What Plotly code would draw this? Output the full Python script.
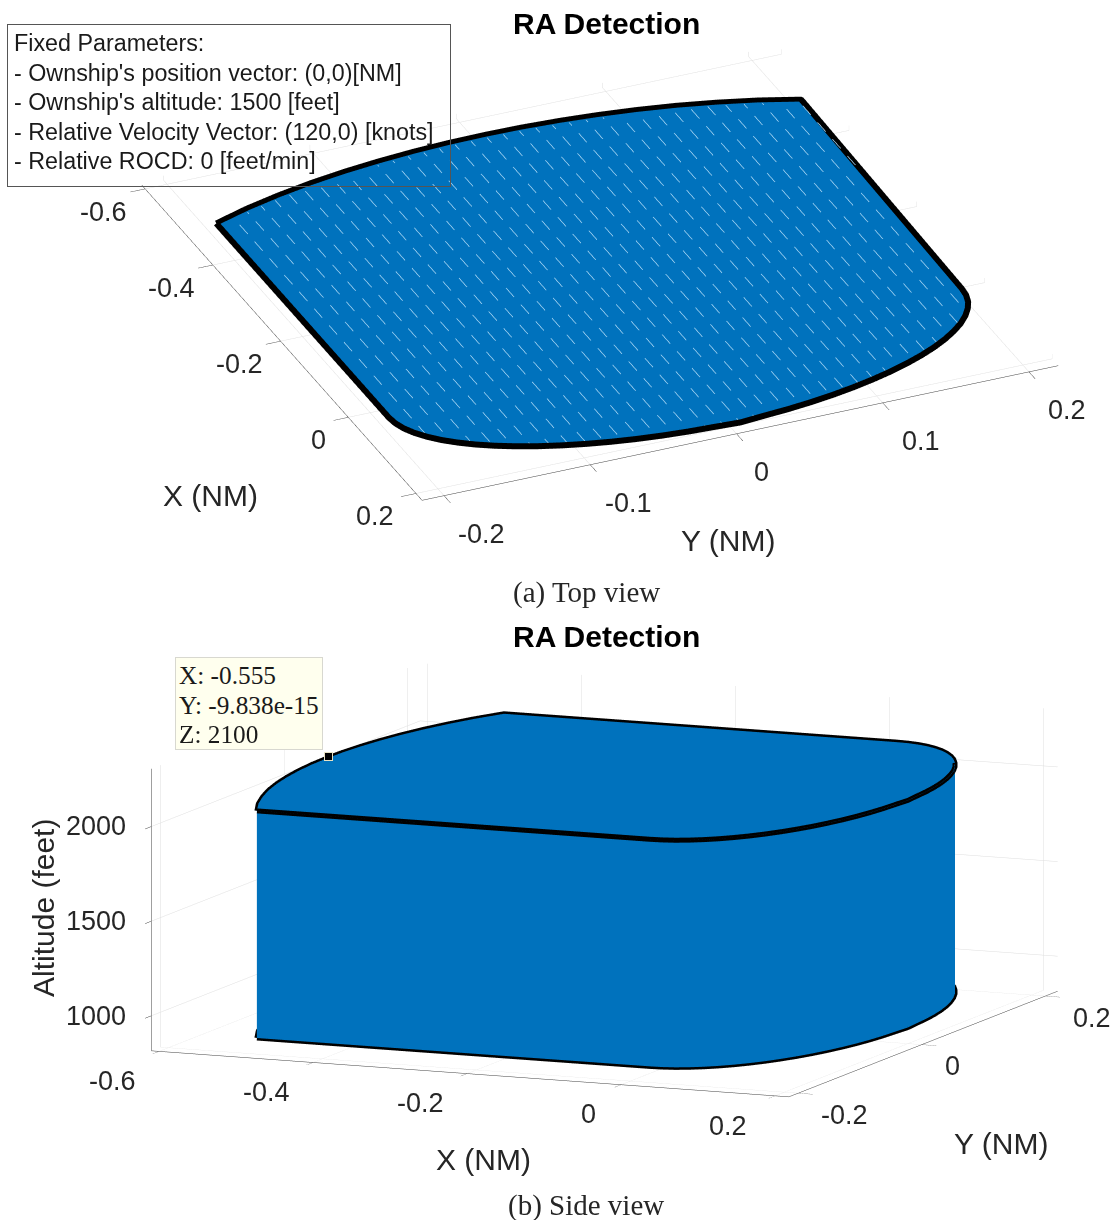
import numpy as np
import plotly.graph_objects as go
from math import cos, sin, radians

BLUE = "#0072BD"
# boundary of the RA region (NM)
boundary_x = [-0.485, 0.025, 0.0402, 0.0555, 0.0703, 0.0849, 0.0989, 0.1122, 0.125, 0.1369, 0.1479, 0.158, 0.1672,
              0.1752, 0.1822, 0.188, 0.1925, 0.1958, 0.1977, 0.2, 0.1977, 0.1958, 0.1925, 0.188, 0.1822, 0.1752,
              0.1672, 0.158, 0.1479, 0.1369, 0.125, 0.1122, 0.0989, 0.0849, 0.0703, 0.0555, 0.0402, 0.025,
              -0.485, -0.5032, -0.5178, -0.5298, -0.5391, -0.5461, -0.5511, -0.5541, -0.555,
              -0.5541, -0.5511, -0.5461, -0.5391, -0.5298, -0.5178, -0.5032, -0.485]
boundary_y = [-0.2, -0.2, -0.1992, -0.197, -0.1932, -0.1879, -0.1813, -0.1732, -0.1638, -0.1532, -0.1414, -0.1286,
              -0.1147, -0.1, -0.0845, -0.0684, -0.0518, -0.0347, -0.0174, 0.0, 0.0174, 0.0347, 0.0518, 0.0684,
              0.0845, 0.1, 0.1147, 0.1286, 0.1414, 0.1532, 0.1638, 0.1732, 0.1813, 0.1879, 0.1932, 0.197, 0.1992, 0.2,
              0.2, 0.175, 0.15, 0.125, 0.1, 0.075, 0.05, 0.025, 0.0,
              -0.025, -0.05, -0.075, -0.1, -0.125, -0.15, -0.175, -0.2]
# the top view's outline sits slightly apart from its axes in the picture
top_view_y_offset = 0.007
top_view_arc_dx = -0.0165
top_view_arc_dy = -0.0043
alt_low = 900
alt_high = 2100
tip_x, tip_y, tip_z = -0.555, 0.0, 2100
x_ticks = [-0.6, -0.4, -0.2, 0, 0.2]
y_ticks_top = [-0.2, -0.1, 0, 0.1, 0.2]
y_ticks_side = [-0.2, 0, 0.2]
z_ticks = [1000, 1500, 2000]
x_range = [-0.61, 0.218]
y_range = [-0.215, 0.22]
z_range = [815, 2305]
param_lines = ["Fixed Parameters:", "- Ownship's position vector: (0,0)[NM]", "- Ownship's altitude: 1500 [feet]",
               "- Relative Velocity Vector: (120,0) [knots]", "- Relative ROCD: 0 [feet/min]"]
tip_lines = ["X: -0.555", "Y: -9.838e-15", "Z: 2100"]
# sample lattice gaps visible on the top face
gap_y = [-0.198, -0.187, -0.176, -0.165, -0.154, -0.143, -0.132, -0.121, -0.11, -0.099, -0.088, -0.077, -0.066, -0.055,
         -0.044, -0.033, -0.022, -0.011, 0.0, 0.011, 0.022, 0.033, 0.044, 0.055, 0.066, 0.077, 0.088, 0.099, 0.11,
         0.121, 0.132, 0.143, 0.154, 0.165, 0.176, 0.187, 0.198]
gap_x = [-0.56, -0.516, -0.472, -0.428, -0.384, -0.34, -0.296, -0.252, -0.208, -0.164, -0.12, -0.076, -0.032, 0.012,
         0.056, 0.1, 0.144, 0.188]
gap_len = 0.024

n = len(boundary_x) - 1
cx, cy = -0.2, 0.0
FLAT = dict(ambient=1, diffuse=0, specular=0, fresnel=0, roughness=1)

top_x, top_y = [], []
for idx, (bx, by) in enumerate(zip(boundary_x, boundary_y)):
    w = max(by, 0.0) / 0.2 if 1 <= idx <= 37 else 0.0
    top_x.append(bx + w * top_view_arc_dx)
    top_y.append(by + top_view_y_offset + w * top_view_arc_dy)


def top_mesh(z, scene):
    xs = top_x[:-1] + [cx]
    ys = top_y[:-1] + [cy]
    zs = [z] * (n + 1)
    i = [n] * n
    j = list(range(n))
    k = [(a + 1) % n for a in range(n)]
    return go.Mesh3d(x=xs, y=ys, z=zs, i=i, j=j, k=k, color=BLUE, flatshading=True,
                     lighting=FLAT, hoverinfo="skip", scene=scene)


def solid_mesh(scene):
    xs = boundary_x[:-1] * 2 + [cx, cx]
    ys = boundary_y[:-1] * 2 + [cy, cy]
    zs = [alt_high] * n + [alt_low] * n + [alt_high, alt_low]
    i, j, k = [], [], []
    for a in range(n):
        b = (a + 1) % n
        i += [2 * n, a, b]
        j += [a, n + a, n + b]
        k += [b, n + b, a]
    return go.Mesh3d(x=xs, y=ys, z=zs, i=i, j=j, k=k, color=BLUE, flatshading=True,
                     lighting=FLAT, hoverinfo="skip", scene=scene)


def x_limits(y):
    near = list(zip(top_x[1:38], top_y[1:38]))
    far = list(zip(top_x[38:], top_y[38:]))[::-1]
    hi = np.interp(y, [p[1] for p in near], [p[0] for p in near])
    lo = np.interp(y, [p[1] for p in far], [p[0] for p in far])
    return lo, hi


hx, hy, hz = [], [], []
for gy in gap_y:
    yy = gy + top_view_y_offset
    lo, hi = x_limits(yy)
    for gx in gap_x:
        a, b = max(gx, lo + 0.006), min(gx + gap_len, hi - 0.006)
        if b > a:
            hx += [a, b, None]
            hy += [yy, yy, None]
            hz += [2099.8, 2099.8, None]


def axis(rng, ticks, **kw):
    return dict(range=rng, tickvals=ticks, showticklabels=False, title=dict(text=""),
                showgrid=True, gridcolor="#dedede", gridwidth=1, showline=True, linecolor="#404040", linewidth=1,
                ticks="outside", ticklen=16, tickcolor="#404040", tickwidth=1, showbackground=False,
                zeroline=False, showspikes=False, **kw)


fig = go.Figure()
fig.add_trace(top_mesh(2099.4, "scene"))
fig.add_trace(go.Scatter3d(x=hx, y=hy, z=hz, mode="lines", line=dict(color="#a8d6f4", width=1.5),
                           hoverinfo="skip", scene="scene"))
fig.add_trace(go.Scatter3d(x=top_x, y=top_y, z=[2100] * len(top_x), mode="lines",
                           line=dict(color="black", width=12), hoverinfo="skip", scene="scene"))
fig.add_trace(solid_mesh("scene2"))
fig.add_trace(go.Scatter3d(x=boundary_x, y=boundary_y, z=[alt_high] * len(boundary_x), mode="lines",
                           line=dict(color="black", width=10), hoverinfo="skip", scene="scene2"))
fig.add_trace(go.Scatter3d(x=boundary_x, y=boundary_y, z=[alt_low] * len(boundary_x), mode="lines",
                           line=dict(color="black", width=10), hoverinfo="skip", scene="scene2"))

W, H = 1115, 1220


def eye(theta, phi, d):
    t, p = radians(theta), radians(phi)
    return dict(x=d * cos(p) * cos(t), y=d * cos(p) * sin(t), z=d * sin(p))


TICK = dict(color="#262626", size=27, family="Liberation Sans")
EPS_X, EPS_Y, EPS_Z = 0.0005, 0.0005, 1.0


def tick_note(x, y, z, label, dx, dy):
    return dict(x=x, y=y, z=z, text=label, showarrow=False, xanchor="center", yanchor="middle",
                xshift=dx, yshift=-dy, font=TICK)


top_ann = [tick_note(v, y_range[0] + EPS_Y, 2099.5, str(v), -31 if v == 0 else -42, 24) for v in x_ticks]
top_ann += [tick_note(x_range[1] - EPS_X, v, 2099.5, str(v), 25 if v == 0 else 38, 40) for v in y_ticks_top]
side_ann = [tick_note(v, y_range[0] + EPS_Y, z_range[0] + EPS_Z, str(v), -33 if v == 0 else -47, 30) for v in x_ticks]
side_ann += [tick_note(x_range[1] - EPS_X, v, z_range[0] + EPS_Z, str(v), 31 if v == 0 else 47, 22) for v in y_ticks_side]
side_ann += [tick_note(x_range[0] + EPS_X, y_range[0] + EPS_Y, v, str(v), -56, 0) for v in z_ticks]
side_ann.append(dict(x=tip_x, y=tip_y, z=tip_z, text=" ", showarrow=False, xanchor="center", yanchor="middle",
                     xshift=2, yshift=2, width=7, height=7, borderpad=0, bgcolor="black", bordercolor="#e8e2c4",
                     borderwidth=1, font=dict(size=4)))

fig.update_layout(
    width=W, height=H, margin=dict(l=0, r=0, t=0, b=0), paper_bgcolor="white", showlegend=False,
    scene=dict(domain=dict(x=[85 / W, 1], y=[1 - 546 / H, 1]),
               xaxis=axis(x_range, x_ticks), yaxis=axis(y_range, y_ticks_top),
               zaxis=dict(range=[2099, 2101], visible=False),
               aspectmode="manual", aspectratio=dict(x=2.58, y=2.54, z=0.02),
               annotations=top_ann,
               camera=dict(projection=dict(type="orthographic"), eye=eye(-23.45, 29.2, 2),
                           up=dict(x=0, y=0, z=1))),
    scene2=dict(domain=dict(x=[94 / W, 1], y=[1 - 1169 / H, 1 - 591 / H]),
                xaxis=axis(x_range, x_ticks), yaxis=axis(y_range, y_ticks_side), zaxis=axis(z_range, z_ticks),
                aspectmode="manual", aspectratio=dict(x=2.4, y=2.36, z=0.99),
                annotations=side_ann,
                camera=dict(projection=dict(type="orthographic"), eye=eye(-66.8, 9.7, 2),
                            up=dict(x=0, y=0, z=1))),
)


def note(text, x, y, size, family="Liberation Sans", color="#262626", xanchor="center", **kw):
    return dict(text=text, x=x / W, y=1 - y / H, xref="paper", yref="paper", showarrow=False,
                xanchor=xanchor, yanchor="middle",
                font=dict(size=size, family=family, color=color), **kw)


anns = [
    note("<b>RA Detection</b>", 606, 24, 30, color="black"),
    note("<b>RA Detection</b>", 606, 636, 30, color="black"),
    note("(a) Top view", 586, 593, 29, family="Liberation Serif"),
    note("(b) Side view", 586, 1205, 29, family="Liberation Serif"),
    note("X (NM)", 210, 495, 30), note("Y (NM)", 728, 540, 30),
    note("X (NM)", 483, 1159, 30), note("Y (NM)", 1001, 1143, 30),
    note("Altitude (feet)", 43, 908, 30, textangle=-90),
    note(" ", 229, 105.5, 10, width=442, height=161, borderpad=0, bordercolor="#555555", borderwidth=1),
    note(" ", 249, 703.5, 10, width=146, height=91, borderpad=0, bgcolor="#FFFFEE", bordercolor="#d8d8d0", borderwidth=1),
]
for line, y in zip(param_lines, [43, 72.5, 102, 131.5, 160.5]):
    anns.append(note(line, 11.5, y, 23.3, color="#1a1a1a", xanchor="left"))
for line, y in zip(tip_lines, [675, 705, 734]):
    anns.append(note(line, 177, y, 25.3, family="Liberation Serif", color="#1a1a1a", xanchor="left"))
fig.update_layout(annotations=anns)
fig.write_html("out.html", post_script="document.body.style.margin='0';", config=dict(displayModeBar=False))
